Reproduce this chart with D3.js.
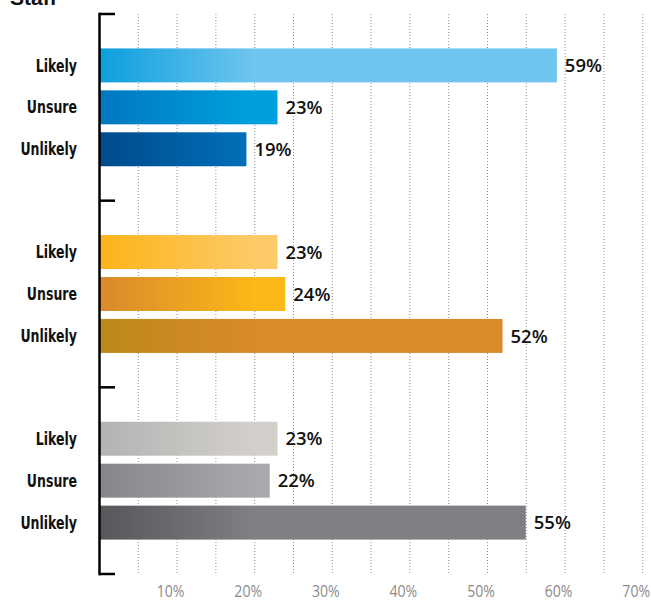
<!DOCTYPE html>
<html>
<head>
<meta charset="utf-8">
<script src="https://cdn.jsdelivr.net/npm/d3@7"></script>
<style>
  html, body { margin: 0; padding: 0; background: #fff; }
  svg { display: block; }
</style>
</head>
<body>
<svg id="chart" width="651" height="602"></svg>
<script>
// ---- data ----
const title = "Staff";
const groups = ["Group 1", "Group 2", "Group 3"];
const categories = ["Likely", "Unsure", "Unlikely"];
const group1Values = [59, 23, 19];
const group2Values = [23, 24, 52];
const group3Values = [23, 22, 55];
const gridValues = [5, 10, 15, 20, 25, 30, 35, 40, 45, 50, 55, 60, 65, 70];
const tickValues = [10, 20, 30, 40, 50, 60, 70];
const tickLabels = ["10%", "20%", "30%", "40%", "50%", "60%", "70%"];

// ---- styles ----
const gradients = [
  [["#0c9fdc", "#6fc5ef"], ["#0077c0", "#00a0df"], ["#004a8b", "#0072bb"]],
  [["#fbb418", "#fdca68"], ["#d9892c", "#fbb817"], ["#bd881a", "#d98a2b"]],
  [["#b3b3b3", "#d3d0cb"], ["#858689", "#a8a9ac"], ["#56575a", "#7f8083"]]
];

const allValues = [group1Values, group2Values, group3Values];
const svg = d3.select("#chart");

const x0 = 99, yTop = 14, yBottom = 574;
const x = d3.scaleLinear().domain([0, 70]).range([x0, x0 + 70 * 7.76]);
const yGroup = d3.scaleBand().domain(groups).range([yTop, yBottom]).paddingInner(0).paddingOuter(0);
const yBar = d3.scaleBand().domain(categories).range([0, yGroup.bandwidth()])
  .paddingInner(0.19).paddingOuter(0.82);

// gradients
const defs = svg.append("defs");
groups.forEach((g, gi) => {
  categories.forEach((c, ci) => {
    const lg = defs.append("linearGradient")
      .attr("id", `grad-${gi}-${ci}`)
      .attr("gradientUnits", "userSpaceOnUse")
      .attr("x1", x(0)).attr("x2", x(20)).attr("y1", 0).attr("y2", 0);
    lg.append("stop").attr("offset", "0%").attr("stop-color", gradients[gi][ci][0]);
    lg.append("stop").attr("offset", "100%").attr("stop-color", gradients[gi][ci][1]);
  });
});

// grid lines
svg.append("g").selectAll("line").data(gridValues).join("line")
  .attr("x1", d => x(d) + 0.5).attr("x2", d => x(d) + 0.5)
  .attr("y1", yTop).attr("y2", yBottom)
  .attr("stroke", "#8f8f8f").attr("stroke-width", 1)
  .attr("stroke-dasharray", "1,2");

// bars
const rows = [];
groups.forEach((g, gi) => categories.forEach((c, ci) => rows.push({ g, gi, c, ci, v: allValues[gi][ci] })));

svg.append("g").selectAll("rect").data(rows).join("rect")
  .attr("x", x(0))
  .attr("y", d => yGroup(d.g) + yBar(d.c))
  .attr("width", d => x(d.v) - x(0))
  .attr("height", yBar.bandwidth())
  .attr("fill", d => `url(#grad-${d.gi}-${d.ci})`);

// value labels
svg.append("g").selectAll("text").data(rows).join("text")
  .attr("x", d => x(d.v) + 8)
  .attr("y", d => yGroup(d.g) + yBar(d.c) + yBar.bandwidth() / 2)
  .attr("dy", "0.36em")
  .attr("font-family", "'Open Sans', sans-serif")
  .attr("font-weight", 600)
  .attr("font-size", 18.5)
  .attr("fill", "#111")
  .text(d => d.v + "%");

// category labels (condensed)
svg.append("g").selectAll("text").data(rows).join("text")
  .attr("transform", d => `translate(77,${yGroup(d.g) + yBar(d.c) + yBar.bandwidth() / 2}) scale(0.82,1)`)
  .attr("dy", "0.36em")
  .attr("text-anchor", "end")
  .attr("font-family", "'DejaVu Sans Condensed', 'Liberation Sans Narrow', sans-serif")
  .attr("font-weight", 700)
  .attr("font-size", 17)
  .attr("fill", "#111")
  .text(d => d.c);

// vertical axis line and group ticks
const axisG = svg.append("g");
axisG.append("line")
  .attr("x1", x(0) + 0.5).attr("x2", x(0) + 0.5)
  .attr("y1", yTop - 1.25).attr("y2", yBottom + 1.25)
  .attr("stroke", "#000").attr("stroke-width", 2.5);
const tickYs = [yTop, ...groups.slice(1).map(g => yGroup(g)), yBottom];
axisG.selectAll("line.tick").data(tickYs).join("line").attr("class", "tick")
  .attr("x1", x(0)).attr("x2", x(0) + 16)
  .attr("y1", d => d).attr("y2", d => d)
  .attr("stroke", "#000").attr("stroke-width", 2.5);

// x tick labels
svg.append("g").selectAll("text").data(tickValues).join("text")
  .attr("transform", (d) => `translate(${x(d) - 6},597) scale(0.88,1)`)
  .attr("text-anchor", "middle")
  .attr("font-family", "'Open Sans', sans-serif")
  .attr("font-size", 16)
  .attr("fill", "#8a8a8a")
  .text((d, i) => tickLabels[i]);

// cropped title (reference shows it cut off at the top edge)
svg.append("text")
  .attr("x", 10).attr("y", 5)
  .attr("font-family", "'Liberation Sans', Arial, sans-serif")
  .attr("font-weight", 700)
  .attr("font-size", 21)
  .attr("fill", "#111")
  .text(title);
</script>
</body>
</html>
